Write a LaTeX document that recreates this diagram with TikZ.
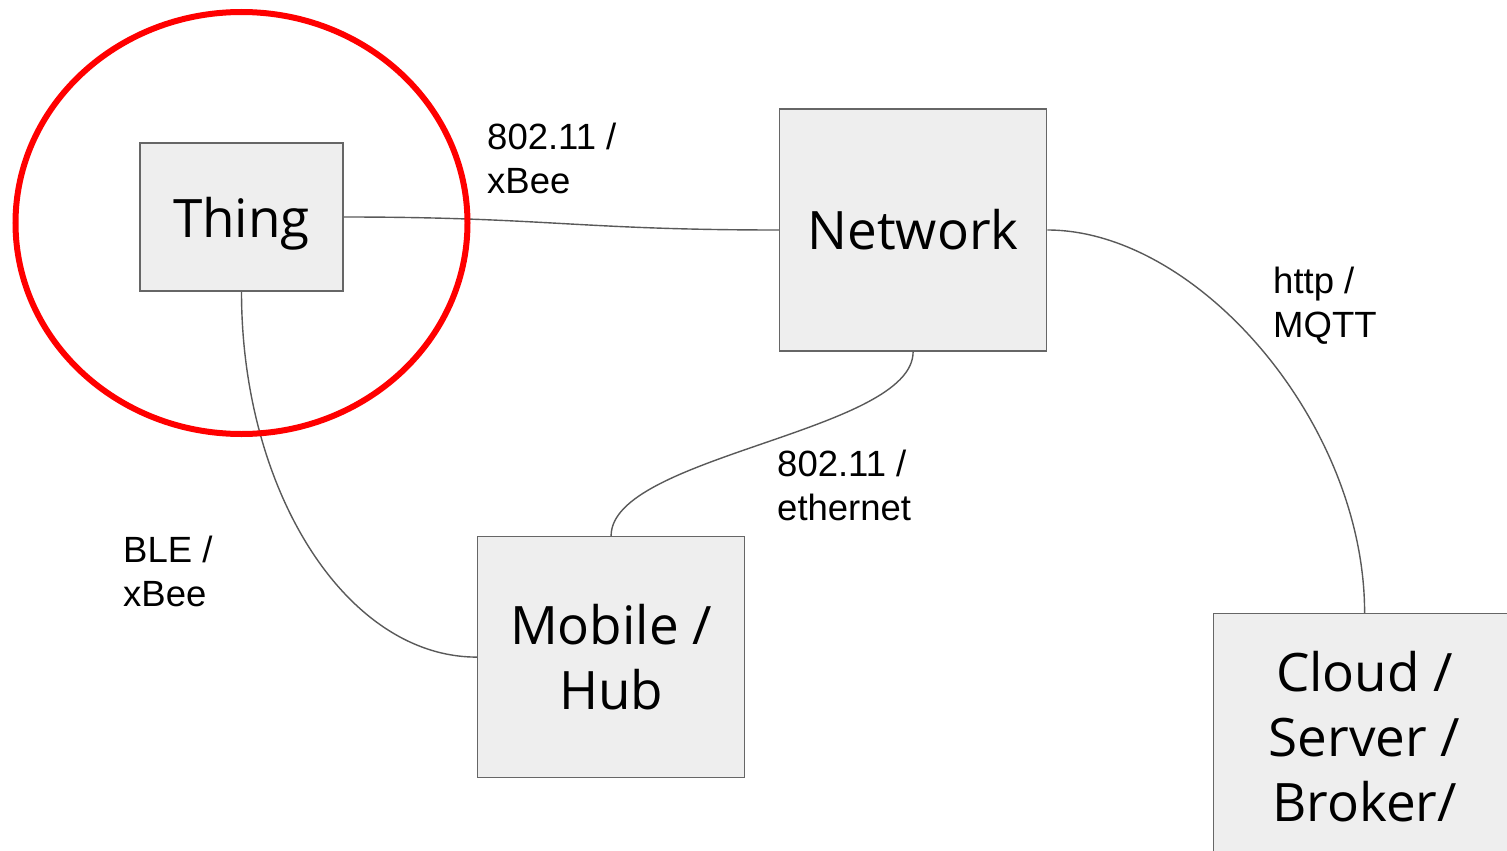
\documentclass[tikz,border=0pt]{standalone}
\usepackage{fontspec}
\setmainfont{Liberation Sans}
\newfontfamily\boxfont{Open Sans}
\usetikzlibrary{positioning, shapes.geometric}
\definecolor{boxFill}{HTML}{EEEEEE}
\definecolor{boxEdge}{HTML}{666666}
\definecolor{wireGray}{HTML}{595959}
\definecolor{ringRed}{HTML}{FF0000}
\tikzset{
    device/.style={rectangle, draw=boxEdge, fill=boxFill, line width=1.6pt, align=center,
                   inner sep=0pt, font=\boxfont\fontsize{53}{65}\selectfont},
    wire/.style={draw=wireGray, line width=1.4pt},
    ring/.style={ellipse, draw=ringRed, line width=6pt},
    lbl/.style={anchor=north west, align=left, inner sep=0pt, font=\fontsize{36.5}{44}\selectfont}
}
\begin{document}
\begin{tikzpicture}[x=1pt, y=-1pt, node distance=184pt and 435pt]
    \useasboundingbox (0,0) rectangle (1507,851);
    \clip (0,0) rectangle (1507,851);
    % Devices
    \node[device, minimum width=203pt, minimum height=148pt, text depth=0pt] (thing) at (241.5,217) {Thing};
    \node[device, minimum width=267pt, minimum height=242pt, right=435pt of thing, yshift=-13pt] (network) {Network};
    \node[device, minimum width=267pt, minimum height=241pt, below=184pt of network, xshift=-302pt] (mobile) {Mobile /\\Hub};
    \node[device, minimum width=302pt, minimum height=246pt, below=261pt of network, xshift=451.5pt] (cloud) {Cloud /\\Server /\\Broker/};

    % Links
    \draw[wire] (thing.east) .. controls +(200,0) and +(-200,0) .. (network.west);
    \draw[wire] (thing.south) .. controls +(0,200) and +(-130,0) .. (mobile.west);
    \draw[wire] (network.south) .. controls +(0,80) and +(0,-80) .. (mobile.north);
    \draw[wire] (network.east) .. controls +(150,0) and +(0,-190) .. (cloud.north);

    % Link labels
    \node[lbl] (wifiA) at (487,122.5) {802.11 /\\xBee};
    \node[lbl] (web) at (1273,266.5) {http /\\MQTT};
    \node[lbl] (wifiB) at (777,449.5) {802.11 /\\ethernet};
    \node[lbl] (ble) at (123,535.5) {BLE /\\xBee};

    % Highlight
    \node[ring, minimum width=452pt, minimum height=422pt, yshift=-6pt] (halo) at (thing.center) {};
\end{tikzpicture}
\end{document}
